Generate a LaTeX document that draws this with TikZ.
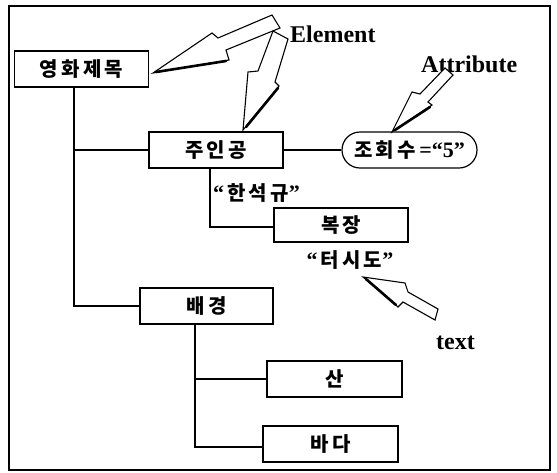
\documentclass[tikz,border=0pt]{standalone}
\usepackage{fontspec}
\setmainfont{Liberation Serif}
\newfontfamily\kr{Noto Sans CJK KR}[LetterSpace=16]
\begin{document}
\begin{tikzpicture}[x=1pt,y=-1pt,
  box/.style={draw,line width=1.2pt,minimum width=134pt,minimum height=36pt,inner sep=0pt,font=\kr\bfseries\fontsize{20}{20}\selectfont},
  attbox/.style={box,rounded corners=18pt},
  conn/.style={line width=1.2pt},
  lbl/.style={inner sep=0pt,font=\bfseries\fontsize{24}{24}\selectfont},
  krlbl/.style={inner sep=0pt,font=\kr\bfseries\fontsize{20}{20}\selectfont},
  bolt/.style={draw,fill=white,line width=1.1pt,line join=miter},
  shadow/.style={line width=2.6pt,line cap=round}]
\useasboundingbox (0,0) rectangle (557,472);
\draw[line width=1.4pt] (9,6) rectangle (550,470);
% boxes
\node[box] (title) at (81.5,69) {영화제목};
\node[box] (hero) at (216,150) {주인공};
\node[attbox,minimum width=135pt] (att) at (409.5,150) {조회수{\rmfamily\fontsize{22}{22}\selectfont\,=“5”}};
\node[box,minimum height=34pt] (dress) at (341,225) {복장};
\node[box,minimum width=133pt] (bg) at (206.5,306) {배경};
\node[box,minimum width=135pt] (mtn) at (334.5,379) {산};
\node[box,minimum width=135pt] (sea) at (330.5,444) {바다};
% texts
\node[krlbl,anchor=west] (han) at (213,193) {{\rmfamily\fontsize{22}{22}\selectfont“}\hspace{3pt}한석규{\rmfamily\fontsize{22}{22}\selectfont”}};
\node[krlbl] (tux) at (350,260) {{\rmfamily\fontsize{22}{22}\selectfont“}\hspace{3pt}터시도{\rmfamily\fontsize{22}{22}\selectfont”}};
\node[lbl,anchor=west] (elem) at (290,34) {Element};
\node[lbl,anchor=west] (attr) at (421,64) {Attribute};
\node[lbl,anchor=west] (txt) at (436,343) {text};
% connectors
\coordinate (trunk) at ([xshift=-7.5pt]title.south);
\draw[conn] (trunk) |- (bg.west);
\draw[conn] (hero.west) -- (hero.west -| trunk);
\draw[conn] (hero.east) -- (att.west);
\coordinate (herob) at ([xshift=-6pt]hero.south);
\draw[conn] (herob) |- ([yshift=-2pt]dress.west);
\coordinate (bgb) at ([xshift=-11.5pt]bg.south);
\draw[conn] (bgb) |- ([yshift=-3pt]sea.west);
\draw[conn] (mtn.west) -- (mtn.west -| bgb);
% lightning arrows
\draw[bolt] (153,73) -- (212,33) -- (218,38) -- (272,15) -- (280,28) -- (226,50) -- (229,60) -- cycle;
\draw[shadow] (156,72) -- (226,61);
\draw[bolt] (243,130) -- (248,72) -- (258,71) -- (273,31) -- (288,39) -- (275,82) -- (279,86) -- cycle;
\draw[shadow] (278,88) -- (246,127);
\draw[bolt] (392,132) -- (412,92) -- (420,94) -- (445,68) -- (453,75) -- (428,102) -- (432,105) -- cycle;
\draw[shadow] (430,107) -- (395,130);
\draw[bolt] (363,277) -- (405,283) -- (408,292) -- (438,309) -- (435,320) -- (403,302) -- (398,307) -- cycle;
\draw[shadow] (366,279) -- (396,305);
\end{tikzpicture}
\end{document}
